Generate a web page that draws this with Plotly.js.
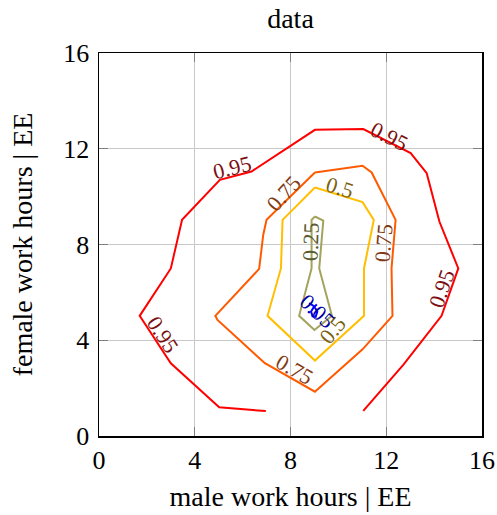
<!DOCTYPE html>
<html>
<head>
<meta charset="utf-8">
<script src="https://cdn.plot.ly/plotly-3.0.1.min.js"></script>
<style>
  html, body { margin: 0; padding: 0; background: #fff; }
  #chart { width: 497px; height: 515px; }
</style>
</head>
<body>
<div id="chart"></div>
<script>
// Contour paths of the joint distribution (male vs female work hours)
const lvl095X = [6.97, 5.02, 3.0, 1.70, 3.0, 3.47, 5.05, 6.37, 9.02, 11.04, 13.02, 13.69, 14.22, 15.01, 14.31, 12.71, 11.04];
const lvl095Y = [1.04, 1.2, 3.04, 5.02, 7.0, 9.03, 10.70, 11.05, 12.79, 12.82, 11.82, 10.98, 8.96, 7.0, 5.02, 2.97, 1.05];

const lvl075X = [9.02, 11.01, 11.39, 12.39, 12.22, 12.26, 11.01, 9.02, 6.93, 4.95, 4.86, 6.69, 6.86, 7.0, 9.02];
const lvl075Y = [11.01, 11.29, 11.01, 9.03, 7.0, 5.02, 3.62, 1.85, 3.04, 4.85, 5.02, 6.98, 8.4, 9.03, 11.01];

const lvl05X = [9.02, 11.01, 11.48, 11.07, 11.07, 9.02, 7.04, 7.6, 7.67, 9.02];
const lvl05Y = [10.38, 9.77, 9.03, 7.0, 5.02, 3.15, 5.02, 7.0, 9.03, 10.38];

const lvl025X = [9.02, 9.37, 9.2, 9.73, 9.0, 8.36, 8.88, 8.88, 9.02];
const lvl025Y = [9.17, 9.0, 7.0, 5.02, 4.43, 5.02, 7.0, 9.03, 9.17];

const lvl005X = [8.78, 8.98, 9.12, 9.05, 8.92, 8.86, 8.95, 9.1];
const lvl005Y = [5.55, 5.42, 5.2, 4.98, 5.0, 5.2, 5.35, 5.5];

// Contour label placements: level text, x, y, rotation
const labelText = ['0.95', '0.95', '0.95', '0.95', '0.75', '0.75', '0.75', '0.5', '0.5', '0.25', '0.05'];
const labelX = [5.58, 12.15, 14.31, 2.65, 7.7, 11.87, 8.18, 10.05, 9.79, 8.84, 9.14];
const labelY = [11.2, 12.51, 6.17, 4.22, 10.15, 8.06, 2.76, 10.38, 4.43, 8.13, 5.2];
const labelAngle = [-14, 27, -71, 57, -48, -85, 30, 17, -50, -88, 43];

const tickVals = [0, 4, 8, 12, 16];

const lineColor = {'0.95': '#ff0000', '0.75': '#ff5a00', '0.5': '#ffbf00', '0.25': '#a3a35c', '0.05': '#0000ff'};
const labelColor = {'0.95': '#7a1010', '0.75': '#803a14', '0.5': '#7a6010', '0.25': '#5a5a30', '0.05': '#0000a0'};

const serif = 'Liberation Serif, Times New Roman, serif';

function path(xs, ys, level) {
  return {
    x: xs, y: ys, type: 'scatter', mode: 'lines',
    line: {color: lineColor[level], width: 2},
    hoverinfo: 'skip', showlegend: false
  };
}

const traces = [
  path(lvl095X, lvl095Y, '0.95'),
  path(lvl075X, lvl075Y, '0.75'),
  path(lvl05X, lvl05Y, '0.5'),
  path(lvl025X, lvl025Y, '0.25'),
  path(lvl005X, lvl005Y, '0.05')
];

const annotations = labelText.map((t, i) => ({
  x: labelX[i], y: labelY[i], xref: 'x', yref: 'y',
  text: t, showarrow: false, textangle: labelAngle[i],
  font: {family: serif, size: 22, color: labelColor[t]}
}));

const axisCommon = {
  range: [0, 16], tickvals: tickVals, ticktext: tickVals.map(String),
  showgrid: true, gridcolor: '#c8c8c8', gridwidth: 1,
  zeroline: false, showline: true, linecolor: '#000', linewidth: 1.5,
  mirror: 'allticks', ticks: 'inside', ticklen: 9, tickwidth: 1, tickcolor: '#808080',
  tickfont: {family: serif, size: 26, color: '#000'}
};

const layout = {
  width: 497, height: 515,
  margin: {l: 99, r: 15, t: 53, b: 79},
  paper_bgcolor: '#fff', plot_bgcolor: '#fff',
  title: {text: 'data', font: {family: serif, size: 28, color: '#000'},
          x: 0.5845, xanchor: 'center', y: 0.965, yanchor: 'middle'},
  xaxis: Object.assign({}, axisCommon, {
    title: {text: 'male work hours | EE', font: {family: serif, size: 28, color: '#000'}, standoff: 12}
  }),
  yaxis: Object.assign({}, axisCommon, {
    ticklabelstandoff: 3,
    title: {text: 'female work hours | EE', font: {family: serif, size: 28, color: '#000'}, standoff: 22}
  }),
  annotations: annotations
};

Plotly.newPlot('chart', traces, layout, {displayModeBar: false, staticPlot: true});
</script>
</body>
</html>
